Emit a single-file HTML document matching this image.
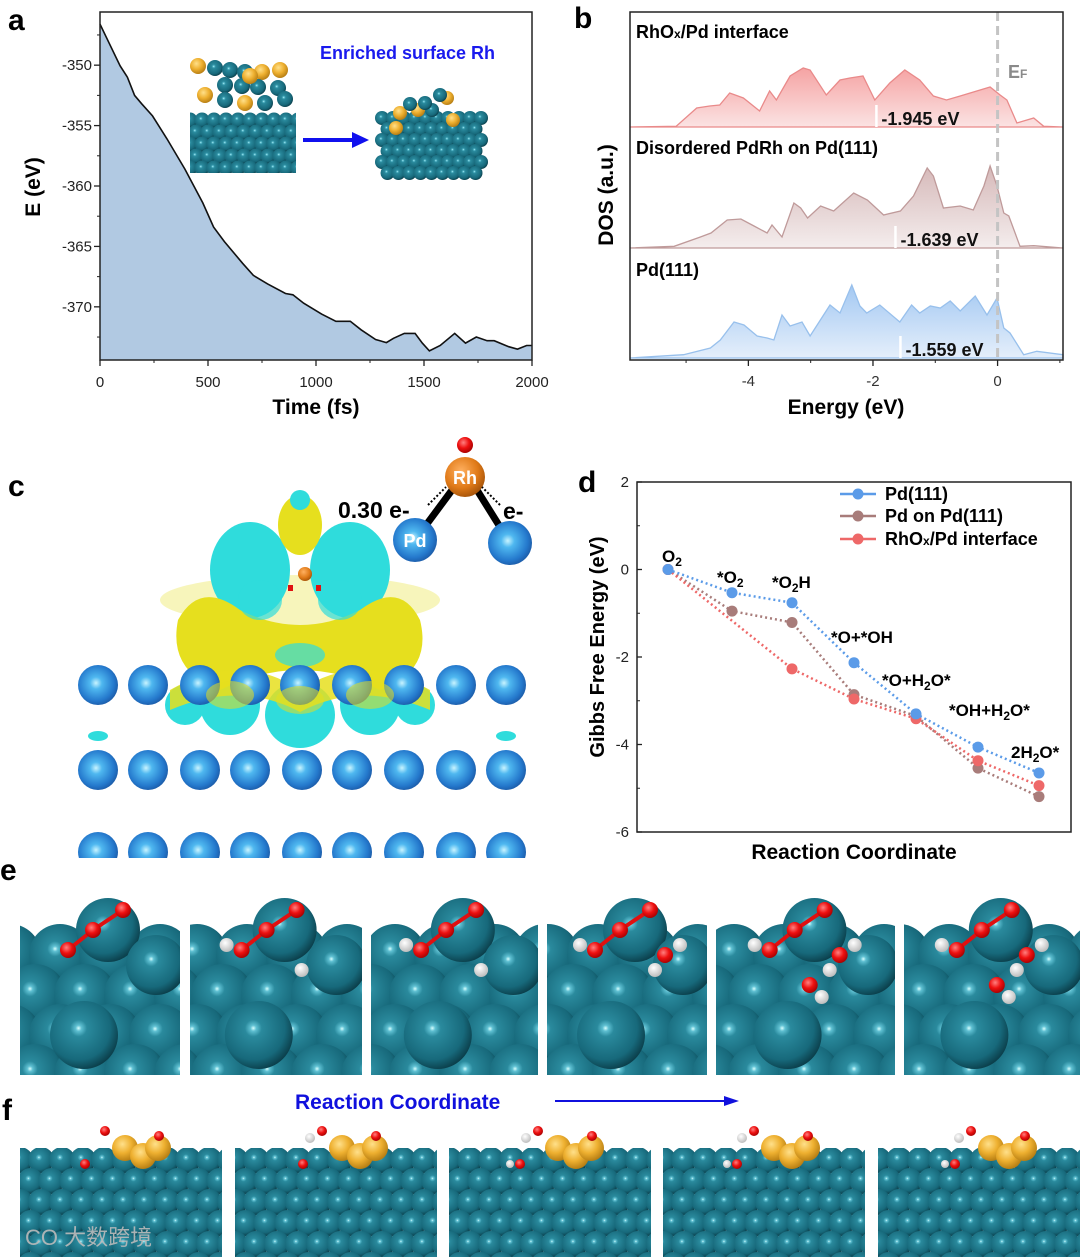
<!DOCTYPE html>
<html><head><meta charset="utf-8"><style>
body{margin:0;background:#fff}
svg{display:block}
text{font-family:"Liberation Sans","Noto Sans CJK SC",sans-serif}
.b{font-weight:bold}
</style></head><body>
<svg id="fig" width="1080" height="1257" viewBox="0 0 1080 1257" xmlns="http://www.w3.org/2000/svg">
<defs>
<radialGradient id="gTeal" cx="0.42" cy="0.4" r="0.62"><stop offset="0" stop-color="#d8ffff"/><stop offset="0.07" stop-color="#5fc0d2"/><stop offset="0.2" stop-color="#2a8a9d"/><stop offset="0.75" stop-color="#17697b"/><stop offset="1" stop-color="#0b3f4b"/></radialGradient>
<radialGradient id="gBlue" cx="0.45" cy="0.45" r="0.6"><stop offset="0" stop-color="#c8f4ff"/><stop offset="0.25" stop-color="#4fb8f0"/><stop offset="0.75" stop-color="#2478cc"/><stop offset="1" stop-color="#1a55a0"/></radialGradient>
<radialGradient id="gGold" cx="0.4" cy="0.35" r="0.7"><stop offset="0" stop-color="#ffe08a"/><stop offset="0.5" stop-color="#eeb030"/><stop offset="1" stop-color="#b07810"/></radialGradient>
<radialGradient id="gOr" cx="0.4" cy="0.35" r="0.7"><stop offset="0" stop-color="#ffb060"/><stop offset="0.6" stop-color="#e07a18"/><stop offset="1" stop-color="#a05008"/></radialGradient>
<radialGradient id="gRed" cx="0.4" cy="0.35" r="0.7"><stop offset="0" stop-color="#ff8080"/><stop offset="0.5" stop-color="#ee1010"/><stop offset="1" stop-color="#a00000"/></radialGradient>
<radialGradient id="gWh" cx="0.4" cy="0.35" r="0.7"><stop offset="0" stop-color="#ffffff"/><stop offset="1" stop-color="#b8b8b8"/></radialGradient>
<linearGradient id="fRed" x1="0" y1="0" x2="0" y2="1"><stop offset="0" stop-color="#f5a3a3"/><stop offset="1" stop-color="#fbe3e3"/></linearGradient>
<linearGradient id="fBr" x1="0" y1="0" x2="0" y2="1"><stop offset="0" stop-color="#d6b9b9"/><stop offset="1" stop-color="#f4eded"/></linearGradient>
<linearGradient id="fBl" x1="0" y1="0" x2="0" y2="1"><stop offset="0" stop-color="#a3c8f2"/><stop offset="1" stop-color="#e5effb"/></linearGradient>
<clipPath id="cC"><rect x="60" y="420" width="500" height="438"/></clipPath>
<clipPath id="ci1"><rect x="190" y="58" width="106" height="115"/></clipPath>
</defs>
<g id="panelA"></g>
<g id="panelB"></g>
<g id="panelC"></g>
<g id="panelD"></g>
<g id="panelE"></g>
<g id="panelF"></g>
<text x="8" y="30" class="b" font-size="30">a</text>
<text x="574" y="28" class="b" font-size="30">b</text>
<text x="8" y="496" class="b" font-size="30">c</text>
<text x="578" y="492" class="b" font-size="30">d</text>
<text x="0" y="880" class="b" font-size="30">e</text>
<text x="2" y="1120" class="b" font-size="30">f</text>
</svg>
<script>
const NS='http://www.w3.org/2000/svg';
// ---- Panel a data
const timeFs=[0,27,93,127,160,193,243,310,393,476,526,576,660,710,776,859,893,943,1026,1092,1159,1209,1276,1326,1359,1409,1459,1492,1525,1575,1642,1692,1742,1792,1825,1892,1933,1975,2000];
const energyEv=[-346.6,-347.6,-350.05,-351,-352.5,-353.2,-354.2,-356.1,-358.6,-361.4,-363.4,-364.6,-366.4,-367.4,-368.1,-368.9,-369.0,-369.7,-370.6,-371.2,-371.2,-371.9,-372.7,-372.96,-372.6,-372.2,-372.2,-373.0,-373.65,-373.2,-372.2,-373.0,-372.5,-372.8,-372.8,-373.3,-373.5,-373.2,-373.2];
const aYTicks=[-350,-355,-360,-365,-370];
const aXTicks=[0,500,1000,1500,2000];
// ---- Panel b data
const eRh=[-5.9,-5.16,-4.83,-4.62,-4.46,-4.30,-4.08,-3.82,-3.66,-3.55,-3.33,-3.12,-3.01,-2.75,-2.53,-2.37,-2.16,-1.97,-1.73,-1.49,-1.25,-1.03,-0.82,-0.60,-0.12,0.04,0.15,0.31,0.58,0.74,1.05];
const dRh=[0,0.07,1.9,2.1,2.2,3.4,2.9,1.6,3.6,2.7,5.1,5.9,5.7,3.2,4.7,4.9,5.1,2.7,4.4,5.7,4.7,3.1,2.7,3.1,4.0,3.2,2.7,0.4,0.9,0.07,0];
const ePdRh=[-5.9,-5.19,-4.77,-4.60,-4.34,-4.12,-3.91,-3.70,-3.62,-3.46,-3.27,-3.16,-3.05,-2.84,-2.63,-2.31,-2.09,-1.83,-1.56,-1.35,-1.13,-1.03,-0.87,-0.60,-0.39,-0.22,-0.12,-0.01,0.10,0.18,0.36,0.58,1.05];
const dPdRh=[0,0.17,1.1,1.5,2.8,2.9,2.2,1.5,2.3,1.1,4.5,4.0,3.0,4.2,3.7,5.5,4.8,3.3,3.7,5.2,8.0,7.2,4.0,4.2,3.8,6.2,8.2,6.2,3.5,3.2,0.17,0.23,0];
const ePd=[-5.9,-5.04,-4.61,-4.45,-4.23,-4.07,-3.86,-3.70,-3.59,-3.46,-3.33,-3.14,-3.01,-2.69,-2.53,-2.34,-2.21,-2.10,-1.89,-1.57,-1.38,-1.25,-1.08,-0.92,-0.76,-0.60,-0.36,-0.17,-0.01,0.10,0.20,0.42,0.63,1.05];
const dPd=[0,0.33,1.0,1.8,3.6,3.3,2.2,2.0,1.8,4.3,3.2,3.6,2.2,5.3,4.5,7.3,5.2,4.5,5.3,3.6,5.3,4.5,5.2,5.0,5.7,4.7,6.2,4.3,6.0,3.0,2.5,0.33,0.67,0.33];
const dbandCenters=[-1.945,-1.639,-1.559];
const dbandLabels=['-1.945 eV','-1.639 eV','-1.559 eV'];
const bXTicks=[-4,-2,0];
// ---- Panel d data
const stepLabels=['O2','*O2','*O2H','*O+*OH','*O+H2O*','*OH+H2O*','2H2O*'];
const gPd111=[0,-0.53,-0.76,-2.13,-3.30,-4.06,-4.65];
const gPdOnPd=[0,-0.95,-1.21,-2.86,-3.35,-4.54,-5.19];
const gRhOx=[0,null,-2.27,-2.96,-3.41,-4.37,-4.94];
const dYTicks=[2,0,-2,-4,-6];

function el(tag,attrs,parent,txt){const e=document.createElementNS(NS,tag);for(const k in attrs)e.setAttribute(k,attrs[k]);if(txt!==undefined)e.textContent=txt;(parent||document.getElementById('fig')).appendChild(e);return e;}
function sphere(p,x,y,r,fill){const c=el('circle',{cx:x,cy:y,r:r,fill:'url(#'+fill+')'},p);

return c;}
function bond(p,x1,y1,x2,y2,w){el('line',{x1:x1,y1:y1,x2:x2,y2:y2,stroke:'#e01010','stroke-width':w||4},p);}

// ================= Panel A
(function(){
const g=document.getElementById('panelA');
const L=100,R=532,T=12,B=360,E0=-345.6,E1=-374.4;
const sx=t=>L+(t/2000)*(R-L), sy=e=>T+(E0-e)/(E0-E1)*(B-T);
let d='M'+sx(0)+','+B;timeFs.forEach((t,i)=>d+=' L'+sx(t).toFixed(1)+','+sy(energyEv[i]).toFixed(1));d+=' L'+sx(2000)+','+B+'Z';
const area=el('path',{d:d,fill:'#b1c9e2'},g);


let d2='';timeFs.forEach((t,i)=>d2+=(i?' L':'M')+sx(t).toFixed(1)+','+sy(energyEv[i]).toFixed(1));
const ln=el('path',{d:d2,fill:'none',stroke:'#111','stroke-width':1.6},g);


el('rect',{x:L,y:T,width:R-L,height:B-T,fill:'none',stroke:'#222','stroke-width':1.5},g);
aYTicks.forEach(v=>{el('line',{x1:L-6,x2:L,y1:sy(v),y2:sy(v),stroke:'#222','stroke-width':1.3},g);
const t=el('text',{x:L-8,y:sy(v)+5,'text-anchor':'end','font-size':15,fill:'#222'},g,v);


el('line',{x1:L-3,x2:L,y1:sy(v-2.5),y2:sy(v-2.5),stroke:'#222'},g);});
el('line',{x1:L-3,x2:L,y1:sy(-347.5),y2:sy(-347.5),stroke:'#222'},g);
aXTicks.forEach(v=>{el('line',{x1:sx(v),x2:sx(v),y1:B,y2:B+6,stroke:'#222','stroke-width':1.3},g);
if(v<2000)el('line',{x1:sx(v+250),x2:sx(v+250),y1:B,y2:B+3,stroke:'#222'},g);
const t=el('text',{x:sx(v),y:B+27,'text-anchor':'middle','font-size':15,fill:'#222'},g,v);

});
el('text',{x:316,y:414,'text-anchor':'middle','font-size':21,class:'b'},g,'Time (fs)');
el('text',{x:40,y:187,'text-anchor':'middle','font-size':21,class:'b',transform:'rotate(-90 40 187)'},g,'E (eV)');
el('text',{x:320,y:59,'font-size':18,class:'b',fill:'#1a1aee'},g,'Enriched surface Rh');
const i1=el('g',{'clip-path':'url(#ci1)'},g);
for(let r=0;r<5;r++)for(let c=0;c<10;c++)sphere(i1,190+c*12+(r%2)*6,120+r*12,7.5,'gTeal');
[[198,66,'gGold'],[215,68,'gTeal'],[230,70,'gTeal'],[245,72,'gTeal'],[262,72,'gGold'],[280,70,'gGold'],[225,85,'gTeal'],[242,86,'gTeal'],[258,87,'gTeal'],[278,88,'gTeal'],[205,95,'gGold'],[225,100,'gTeal'],[245,103,'gGold'],[265,103,'gTeal'],[285,99,'gTeal'],[250,76,'gGold']].forEach(a=>sphere(i1,a[0],a[1],8,a[2]));
el('line',{x1:303,y1:140,x2:355,y2:140,stroke:'#1010ee','stroke-width':4},g);
el('polygon',{points:'352,132 369,140 352,148',fill:'#1010ee'},g);
const i2=el('g',{},g);
for(let r=0;r<6;r++)for(let c=0;c<10;c++){const x=382+c*11+(r%2)*5.5;if(x<482)sphere(i2,x,118+r*11,7,'gTeal');}
[[400,113,'gGold'],[418,110,'gGold'],[432,110,'gTeal'],[447,98,'gGold'],[440,95,'gTeal'],[425,103,'gTeal'],[396,128,'gGold'],[453,120,'gGold'],[410,104,'gTeal']].forEach(a=>sphere(i2,a[0],a[1],7,a[2]));
})();

// ================= Panel B
(function(){
const g=document.getElementById('panelB');
const L=630,R=1063,T=12,B=360,Emin=-5.9,Emax=1.05;
const sx=e=>L+(e-Emin)/(Emax-Emin)*(R-L);
const series=[[eRh,dRh,127,'#e98a8a','fRed'],[ePdRh,dPdRh,248,'#bf9a9a','fBr'],[ePd,dPd,358,'#98c0ec','fBl']];
const scale=10;
series.forEach((s,k)=>{const [E,D,base,stroke,fill]=s;
let d='M'+sx(E[0])+','+base;E.forEach((e,i)=>d+=' L'+sx(e).toFixed(1)+','+(base-D[i]*scale).toFixed(1));d+=' L'+sx(E[E.length-1])+','+base+'Z';
const p=el('path',{d:d,fill:'url(#'+fill+')',stroke:stroke,'stroke-width':1.3},g);


const xc=sx(dbandCenters[k]);
el('line',{x1:xc,x2:xc,y1:base-22,y2:base,stroke:'#fff','stroke-width':2.5},g);
el('text',{x:xc+5,y:base-2,'font-size':18,class:'b',fill:'#111'},g,dbandLabels[k]);
});
el('line',{x1:sx(0),x2:sx(0),y1:T,y2:B,stroke:'#c4c4c4','stroke-width':3,'stroke-dasharray':'9,5'},g);
const ef=el('text',{x:1008,y:78,'font-size':18,class:'b',fill:'#8a8a8a'},g);ef.textContent='E';
el('tspan',{'font-size':12},ef,'F');
el('rect',{x:L,y:T,width:R-L,height:B-T,fill:'none',stroke:'#222','stroke-width':1.5},g);
const t1=el('text',{x:636,y:38,'font-size':18,class:'b'},g,'RhO');
el('tspan',{'font-size':12},t1,'x');el('tspan',{},t1,'/Pd interface');
el('text',{x:636,y:154,'font-size':18,class:'b'},g,'Disordered PdRh on Pd(111)');
el('text',{x:636,y:276,'font-size':18,class:'b'},g,'Pd(111)');
[-5,-3,-1,1].forEach(v=>el('line',{x1:sx(v),x2:sx(v),y1:B,y2:B+3,stroke:'#222'},g));
bXTicks.forEach(v=>{el('line',{x1:sx(v),x2:sx(v),y1:B,y2:B+6,stroke:'#222','stroke-width':1.3},g);
const t=el('text',{x:sx(v),y:B+26,'text-anchor':'middle','font-size':15,fill:'#333'},g,v);

});
el('text',{x:846,y:414,'text-anchor':'middle','font-size':21,class:'b'},g,'Energy (eV)');
el('text',{x:613,y:195,'text-anchor':'middle','font-size':21,class:'b',transform:'rotate(-90 613 195)'},g,'DOS (a.u.)');
})();

// ================= Panel C
(function(){
const g=document.getElementById('panelC');
const cg=el('g',{'clip-path':'url(#cC)'},g);
const Y='#e6df1e',C='#2fdcdc';
el('ellipse',{cx:300,cy:600,rx:140,ry:25,fill:Y,opacity:0.3},cg);
[[250,570,40,48,C],[350,570,40,48,C],[300,525,22,30,Y],[300,500,10,10,C]].forEach(a=>el('ellipse',{cx:a[0],cy:a[1],rx:a[2],ry:a[3],fill:a[4]},cg));
[[230,705,30,30,C],[300,715,35,33,C],[370,705,30,30,C],[185,705,20,20,C],[415,705,20,20,C]].forEach(a=>el('ellipse',{cx:a[0],cy:a[1],rx:a[2],ry:a[3],fill:a[4]},cg));
el('path',{d:'M178,620 Q200,580 240,610 Q300,640 360,610 Q400,580 420,620 Q430,660 400,680 L380,690 Q300,650 220,690 L200,680 Q170,660 178,620Z',fill:Y},cg);
el('path',{d:'M170,690 Q240,650 300,690 Q360,650 430,690 L430,710 Q360,680 300,712 Q240,680 170,710Z',fill:Y,opacity:0.85},cg);
[[260,600,22,20],[340,600,22,20],[300,655,25,12]].forEach(a=>el('ellipse',{cx:a[0],cy:a[1],rx:a[2],ry:a[3],fill:C,opacity:0.7},cg));
sphere(cg,305,574,7,'gOr');el('rect',{x:288,y:585,width:5,height:6,fill:'#e01010'},cg);el('rect',{x:316,y:585,width:5,height:6,fill:'#e01010'},cg);
[98,148,456,506].forEach(x=>sphere(cg,x,685,20,'gBlue'));
[200,250,300,352,404].forEach(x=>sphere(cg,x,685,20,'gBlue'));
[98,148,200,250,302,352,404,456,506].forEach(x=>{sphere(cg,x,770,20,'gBlue');sphere(cg,x,852,20,'gBlue');});
[[98,736],[506,736]].forEach(a=>el('ellipse',{cx:a[0],cy:a[1],rx:10,ry:5,fill:C},cg));
[[230,695],[300,700],[370,695]].forEach(a=>el('ellipse',{cx:a[0],cy:a[1],rx:24,ry:14,fill:Y,opacity:0.55},cg));
el('line',{x1:415,y1:540,x2:458,y2:482,stroke:'#000','stroke-width':7},g);
el('line',{x1:510,y1:543,x2:472,y2:482,stroke:'#000','stroke-width':7},g);
sphere(g,465,445,8,'gRed');
sphere(g,465,477,20,'gOr');
sphere(g,415,540,22,'gBlue');
sphere(g,510,543,22,'gBlue');
el('text',{x:465,y:484,'text-anchor':'middle','font-size':18,class:'b',fill:'#fff'},g,'Rh');
el('text',{x:415,y:547,'text-anchor':'middle','font-size':18,class:'b',fill:'#fff'},g,'Pd');
el('path',{d:'M428,505 L446,487',stroke:'#000','stroke-width':2,'stroke-dasharray':'2,2',fill:'none'},g);
el('path',{d:'M500,505 L482,487',stroke:'#000','stroke-width':2,'stroke-dasharray':'2,2',fill:'none'},g);
el('text',{x:338,y:518,'font-size':23,class:'b'},g,'0.30 e-');
el('text',{x:503,y:519,'font-size':23,class:'b'},g,'e-');
})();

// ================= Panel D
(function(){
const g=document.getElementById('panelD');
const L=637,R=1071,T=482,B=832,Gmax=2,Gmin=-6;
const xs=[668,732,792,854,916,978,1039];
const sx=i=>xs[i];
const sy=v=>T+(Gmax-v)/(Gmax-Gmin)*(B-T);
el('rect',{x:L,y:T,width:R-L,height:B-T,fill:'none',stroke:'#222','stroke-width':1.5},g);
dYTicks.forEach(v=>{el('line',{x1:L,x2:L+5,y1:sy(v),y2:sy(v),stroke:'#222','stroke-width':1.3},g);
const t=el('text',{x:L-8,y:sy(v)+5,'text-anchor':'end','font-size':15,fill:'#222'},g,v);


if(v>-6)el('line',{x1:L,x2:L+3,y1:sy(v-1),y2:sy(v-1),stroke:'#222'},g);});
const ser=[[gPdOnPd,'#a87c7a','pd-on-pd111'],[gRhOx,'#ee6868','rhox-pd-interface'],[gPd111,'#5b9be8','pd111']];
ser.forEach(s=>{const [vals,col,nm]=s;const pts=[];vals.forEach((v,i)=>{if(v!==null)pts.push([sx(i),sy(v)]);});
const pl=el('polyline',{points:pts.map(p=>p.join(',')).join(' '),fill:'none',stroke:col,'stroke-width':2.5,'stroke-dasharray':'2,3'},g);


pts.forEach(p=>{const c=el('circle',{cx:p[0],cy:p[1],r:5.5,fill:col},g);

});});
[['Pd(111)','#5b9be8',500],['Pd on Pd(111)','#a87c7a',522],['RhOx/Pd interface','#ee6868',545]].forEach((l,i)=>{
el('line',{x1:840,x2:876,y1:l[2]-6,y2:l[2]-6,stroke:l[1],'stroke-width':2.5},g);
el('circle',{cx:858,cy:l[2]-6,r:5.5,fill:l[1]},g);
let t;
if(i===2){t=el('text',{x:885,y:l[2],'font-size':18,class:'b'},g,'RhO');el('tspan',{'font-size':12},t,'x');el('tspan',{},t,'/Pd interface');}
else t=el('text',{x:885,y:l[2],'font-size':18,class:'b'},g,l[0]);

});
const lab=[[662,562,'O','2',''],[717,583,'*O','2',''],[772,588,'*O','2','H'],[831,643,'*O+*OH','',''],[882,686,'*O+H','2','O*'],[949,716,'*OH+H','2','O*'],[1011,758,'2H','2','O*']];
lab.forEach(a=>{const t=el('text',{x:a[0],y:a[1],'font-size':17,class:'b'},g);t.appendChild(document.createTextNode(a[2]));
if(a[3]){el('tspan',{'font-size':12,dy:4},t,a[3]);el('tspan',{dy:-4},t,a[4]);}

});
el('text',{x:614,y:657,'font-size':20,class:'b','text-anchor':'middle',transform:'rotate(-90 604 657)'},g,'Gibbs Free Energy (eV)');
el('text',{x:854,y:859,'font-size':21,class:'b','text-anchor':'middle'},g,'Reaction Coordinate');
})();

// ================= Panel E
(function(){
const g=document.getElementById('panelE');
const frames=[[20,180],[190,362],[371,538],[547,707],[716,895],[904,1080]];
const defs=document.querySelector('defs');
frames.forEach((f,k)=>{
const cp=el('clipPath',{id:'ce'+k},defs);el('rect',{x:f[0],y:880,width:f[1]-f[0],height:195},cp);
const fg=el('g',{'clip-path':'url(#ce'+k+')'},g);


const w=f[1]-f[0];
const off=(k*17)%40;
for(let r=0;r<4;r++)for(let c=-1;c<5;c++)sphere(fg,f[0]+c*50+(r%2)*25+off-10,955+r*40,31,'gTeal');
sphere(fg,f[0]+w*0.55,930,32,'gTeal');
sphere(fg,f[0]+w*0.85,965,30,'gTeal');
sphere(fg,f[0]+w*0.4,1035,34,'gTeal');
const ox=f[0]+w*0.3,oy=935;
bond(fg,ox,oy+15,ox+25,oy-5);bond(fg,ox+25,oy-5,ox+55,oy-25);
sphere(fg,ox,oy+15,8,'gRed');sphere(fg,ox+25,oy-5,8,'gRed');
if(k>0){sphere(fg,ox-15,oy+10,7,'gWh');sphere(fg,ox+60,oy+35,7,'gWh');}
sphere(fg,ox+55,oy-25,8,'gRed');
if(k>2){sphere(fg,ox+70,oy+20,8,'gRed');sphere(fg,ox+85,oy+10,7,'gWh');}
if(k>3){sphere(fg,ox+40,oy+50,8,'gRed');sphere(fg,ox+52,oy+62,7,'gWh');}
});
})();

// ================= Panel F
(function(){
const g=document.getElementById('panelF');
el('text',{x:295,y:1109,'font-size':21,class:'b',fill:'#1010dd'},g,'Reaction Coordinate');
el('line',{x1:555,y1:1101,x2:728,y2:1101,stroke:'#1010dd','stroke-width':2},g);
el('polygon',{points:'724,1096 739,1101 724,1106',fill:'#1010dd'},g);
const frames=[20,235,449,663,878];
const defs=document.querySelector('defs');
frames.forEach((x0,k)=>{
const cp=el('clipPath',{id:'cf'+k},defs);el('rect',{x:x0,y:1148,width:202,height:109},cp);
const fg=el('g',{'clip-path':'url(#cf'+k+')'},g);


for(let r=0;r<6;r++)for(let c=-1;c<11;c++)sphere(fg,x0+c*21+(r%2)*10.5,1160+r*21,13,'gTeal');
const gx=x0+105+k*2;
sphere(g,gx,1148,13,'gGold');sphere(g,gx+18,1156,13,'gGold');sphere(g,gx+33,1148,13,'gGold');
sphere(g,gx+34,1136,5,'gRed');sphere(g,gx-20,1131,5,'gRed');
if(k>0)sphere(g,gx-32,1138,5,'gWh');
sphere(g,x0+65+k*3,1164,5,'gRed');
if(k>1)sphere(g,x0+55+k*3,1164,4,'gWh');
});
el('text',{x:25,y:1245,'font-size':22,fill:'#bbbbbb',opacity:0.9},g,'CO 大数跨境');
})();
</script>
</body></html>
